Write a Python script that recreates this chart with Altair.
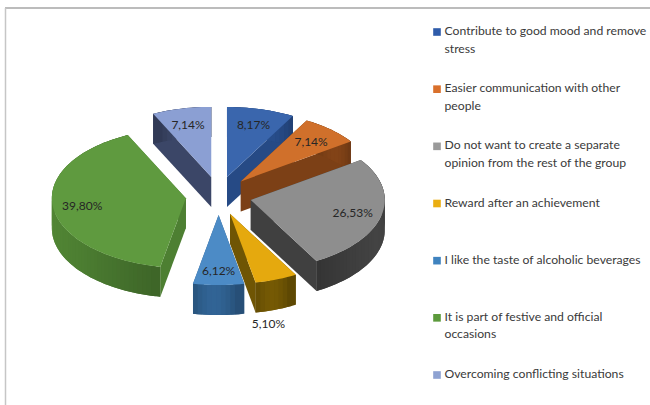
import math
import altair as alt

# Survey shares, in percent, in clockwise order from twelve o'clock
categories = [
    "Contribute to good mood and remove\nstress",
    "Easier communication with other\npeople",
    "Do not want to create a separate\nopinion from the rest of the group",
    "Reward after an achievement",
    "I like the taste of alcoholic beverages",
    "It is part of festive and official\noccasions",
    "Overcoming conflicting situations",
]
shares = [8.17, 7.14, 26.53, 5.10, 6.12, 39.80, 7.14]
share_labels = ["8,17%", "7,14%", "26,53%", "5,10%", "6,12%", "39,80%", "7,14%"]

# Face and wall colours of each slice
top_colors = ["#3a66ad", "#d0702b", "#8e8e8e", "#e5a90e", "#4c8bc6", "#5f9a3f", "#8b9fd3"]
wall_colors = ["#264a85", "#7c4016", "#404040", "#6f5504", "#2f5f8e", "#4d7f32", "#3b4667"]
legend_colors = ["#2f5caa", "#d9702c", "#9a9a9a", "#eaae12", "#3f83bf", "#5c9a3c", "#8ea2d2"]

# Pie geometry in page pixels: tilted ellipse, extrusion depth and explosion
CX, CY = 218.6, 195.7
RX, RY = 134.0, 70.0
DEPTH = 30.0
EXPLODE_X, EXPLODE_Y = 33.0, 19.3
LABEL_RADIUS = 0.78
OUTSIDE_LABEL = 3  # this slice carries its label under the rim


def shade(color, factor):
    channels = [int(color[i:i + 2], 16) for i in (1, 3, 5)]
    return "#" + "".join(f"{min(255, round(c * factor)):02x}" for c in channels)


def polygon(points, fill, slice_name):
    ring = [list(p) for p in points] + [list(points[0])]
    return {
        "type": "Feature",
        "geometry": {"type": "Polygon", "coordinates": [ring]},
        "properties": {"fill": fill, "slice": slice_name},
    }


features_by_slice = []
label_rows = []
angle = 0.0
for i, share in enumerate(shares):
    start = angle
    end = angle + share * 3.6
    angle = end
    mid = math.radians((start + end) / 2)
    ax = CX + EXPLODE_X * math.sin(mid)
    ay = CY - EXPLODE_Y * math.cos(mid)

    def rim(deg):
        t = math.radians(deg)
        return (ax + RX * math.sin(t), ay - RY * math.cos(t))

    steps = max(6, int((end - start) / 2))
    arc_angles = [start + (end - start) * k / steps for k in range(steps + 1)]
    arc = [rim(d) for d in arc_angles]
    drop = lambda p: (p[0], p[1] + DEPTH)

    shapes = []
    # radial walls first, then the curved rim in strips, then the top face
    for edge in (arc[0], arc[-1]):
        shapes.append(polygon([(ax, ay), edge, drop(edge), (ax, ay + DEPTH)], wall_colors[i], i))
    # strips are laid from the far end back, each running under its successor,
    # so that no seam shows between neighbours
    for k in reversed(range(steps)):
        frac = (k + 0.5) / steps
        tone = 0.8 + 0.25 * math.sin(math.pi * frac)
        far = arc[min(k + 2, steps)]
        shapes.append(polygon([arc[k], arc[k + 1], far, drop(far), drop(arc[k + 1]), drop(arc[k])],
                              shade(wall_colors[i], tone), i))
    shapes.append(polygon([(ax, ay)] + arc, top_colors[i], i))
    features_by_slice.append((ay, shapes))

    if i == OUTSIDE_LABEL:
        lx = ax + RX * math.sin(mid) * 0.83
        ly = ay + RY * 1.0 + DEPTH + 10
    else:
        lx = ax + RX * LABEL_RADIUS * math.sin(mid)
        ly = ay - RY * LABEL_RADIUS * math.cos(mid) + 1
    label_rows.append({"lon": lx, "lat": ly, "text": share_labels[i]})

# Painter's order: slices further back are drawn first
features = []
for _, shapes in sorted(features_by_slice, key=lambda item: item[0]):
    features.extend(shapes)

page_projection = alt.Projection(type="identity", scale=1, translate=[0, 0])

pie = (
    alt.Chart(alt.InlineData(values={"type": "FeatureCollection", "features": features},
                             format=alt.DataFormat(property="features", type="json")))
    .mark_geoshape(strokeWidth=0)
    .encode(fill=alt.Fill("properties.fill:N", scale=None))
    .project(**page_projection.to_dict())
)

slice_labels = (
    alt.Chart(alt.Data(values=label_rows))
    .mark_text(font="Lato", fontSize=12, color="#262626")
    .encode(longitude="lon:Q", latitude="lat:Q", text="text:N")
    .project(**page_projection.to_dict())
)

legend_rows = [{"label": c, "swatch": s} for c, s in zip(categories, legend_colors)]
legend_y = alt.Y(
    "label:N",
    axis=None,
    scale=alt.Scale(type="point", domain=categories, range=[32, 375], padding=0),
)
swatches = (
    alt.Chart(alt.Data(values=legend_rows))
    .mark_square(size=58, opacity=1)
    .encode(x=alt.value(437), y=legend_y, fill=alt.Fill("swatch:N", scale=None))
)
legend_text = (
    alt.Chart(alt.Data(values=legend_rows))
    .mark_text(font="Lato", fontSize=12.2, color="#3a3a3a", align="left", baseline="top",
               lineBreak="\n", lineHeight=17.5, dy=-7)
    .encode(x=alt.value(444.5), y=legend_y, text="label:N")
)

frame_top = alt.Chart(alt.Data(values=[{}])).mark_rule(color="#a6a6a6", strokeWidth=1.5).encode(
    x=alt.value(5), x2=alt.value(650), y=alt.value(8)
)
frame_left = alt.Chart(alt.Data(values=[{}])).mark_rule(color="#c6c6c6", strokeWidth=1.5).encode(
    x=alt.value(5.5), y=alt.value(8), y2=alt.value(405)
)

chart = (
    alt.layer(frame_top, frame_left, pie, slice_labels, swatches, legend_text)
    .resolve_scale(fill="independent")
    .properties(width=650, height=405, padding=0, autosize=alt.AutoSizeParams(type="none"),
                background="white")
    .configure_view(stroke=None)
)

chart.save("out.html", embed_options={"renderer": "svg", "actions": False})
